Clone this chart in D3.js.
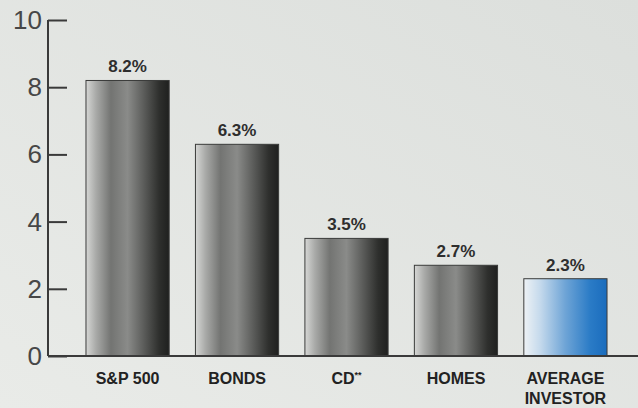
<!DOCTYPE html>
<html><head><meta charset="utf-8">
<script src="https://cdn.jsdelivr.net/npm/d3@7"></script>
<style>html,body{margin:0;padding:0;background:#e3e5e2;}svg{display:block;}</style>
</head><body>
<svg id="c" width="638" height="408"></svg>
<script>
const categories = ["S&P 500", "BONDS", "CD", "HOMES", "AVERAGE INVESTOR"];
const values = [8.2, 6.3, 3.5, 2.7, 2.3];
const valueLabels = ["8.2%", "6.3%", "3.5%", "2.7%", "2.3%"];
const yTicks = [0, 2, 4, 6, 8, 10];

const svg = d3.select("#c");
const W = 638, H = 408;

const defs = svg.append("defs");
const bg = defs.append("linearGradient").attr("id","bg").attr("x1","0").attr("y1","1").attr("x2","1").attr("y2","0");
bg.append("stop").attr("offset","0").attr("stop-color","#e9ebe8");
bg.append("stop").attr("offset","1").attr("stop-color","#dcdfdc");
svg.append("rect").attr("width",W).attr("height",H).attr("fill","url(#bg)");

const g1 = defs.append("linearGradient").attr("id","gray").attr("x1","0").attr("x2","1");
[[0,"#d6d7d5"],[0.12,"#a9aaa8"],[0.3,"#737472"],[0.5,"#8a8b89"],[0.7,"#5a5b59"],[0.88,"#2e2f2d"],[1,"#1f201f"]]
  .forEach(([o,c])=>g1.append("stop").attr("offset",o).attr("stop-color",c));
const g2 = defs.append("linearGradient").attr("id","blue").attr("x1","0").attr("x2","1");
[[0,"#eef2f5"],[0.2,"#c4d9ec"],[0.5,"#6ea4d6"],[0.8,"#2a7bc6"],[1,"#1a6cbd"]]
  .forEach(([o,c])=>g2.append("stop").attr("offset",o).attr("stop-color",c));

const y = d3.scaleLinear().domain([0,10]).range([356,20]);
const x = d3.scaleBand().domain(categories).range([48,645]).paddingInner(0.24).paddingOuter(0.347);

// bars
svg.selectAll("rect.bar").data(categories).join("rect")
  .attr("class","bar")
  .attr("x", d=>x(d)).attr("width", x.bandwidth())
  .attr("y", (d,i)=>y(values[i])).attr("height",(d,i)=>y(0)-y(values[i]))
  .attr("fill",(d,i)=> i===4 ? "url(#blue)" : "url(#gray)")
  .attr("stroke","#3a3b3a").attr("stroke-width",1);

// value labels
svg.selectAll("text.val").data(categories).join("text")
  .attr("class","val")
  .attr("x", d=>x(d)+x.bandwidth()/2)
  .attr("y", (d,i)=>y(values[i])-8)
  .attr("text-anchor","middle")
  .attr("font-family","Liberation Sans, Arial, sans-serif")
  .attr("font-weight","bold").attr("font-size",17).attr("fill","#2e2e2e")
  .text((d,i)=>valueLabels[i]);

// baseline
svg.append("line").attr("x1",48).attr("x2",W).attr("y1",y(0)).attr("y2",y(0))
  .attr("stroke","#3a3a3a").attr("stroke-width",2);

// y axis
const yAxis = d3.axisRight(y).tickValues(yTicks).tickSize(19).tickFormat("");
const ga = svg.append("g").attr("transform","translate(48,0)").call(yAxis);
ga.select(".domain").attr("stroke","#3a3a3a").attr("stroke-width",2).attr("d",`M0,${y(10)}V${y(0)}`);
ga.selectAll(".tick line").attr("stroke","#3a3a3a").attr("stroke-width",2);

svg.selectAll("text.yt").data(yTicks).join("text")
  .attr("class","yt")
  .attr("x",42).attr("y",d=>y(d)+9)
  .attr("text-anchor","end")
  .attr("font-family","Liberation Sans, Arial, sans-serif")
  .attr("font-size",26).attr("fill","#474747")
  .text(d=>d);

// category labels
const cl = svg.selectAll("text.cat").data(categories).join("text")
  .attr("class","cat")
  .attr("x", d=>x(d)+x.bandwidth()/2)
  .attr("y", 384)
  .attr("text-anchor","middle")
  .attr("font-family","Liberation Sans, Arial, sans-serif")
  .attr("font-weight","bold").attr("font-size",16).attr("fill","#222");
cl.each(function(d){
  const t = d3.select(this);
  if (d === "AVERAGE INVESTOR") {
    t.append("tspan").attr("x", x(d)+x.bandwidth()/2).text("AVERAGE");
    t.append("tspan").attr("x", x(d)+x.bandwidth()/2).attr("dy",20).text("INVESTOR");
  } else if (d === "CD") {
    t.append("tspan").text("CD");
    t.append("tspan").attr("font-size",9).attr("dy",-6).text("**");
  } else {
    t.text(d);
  }
});
</script>
</body></html>
